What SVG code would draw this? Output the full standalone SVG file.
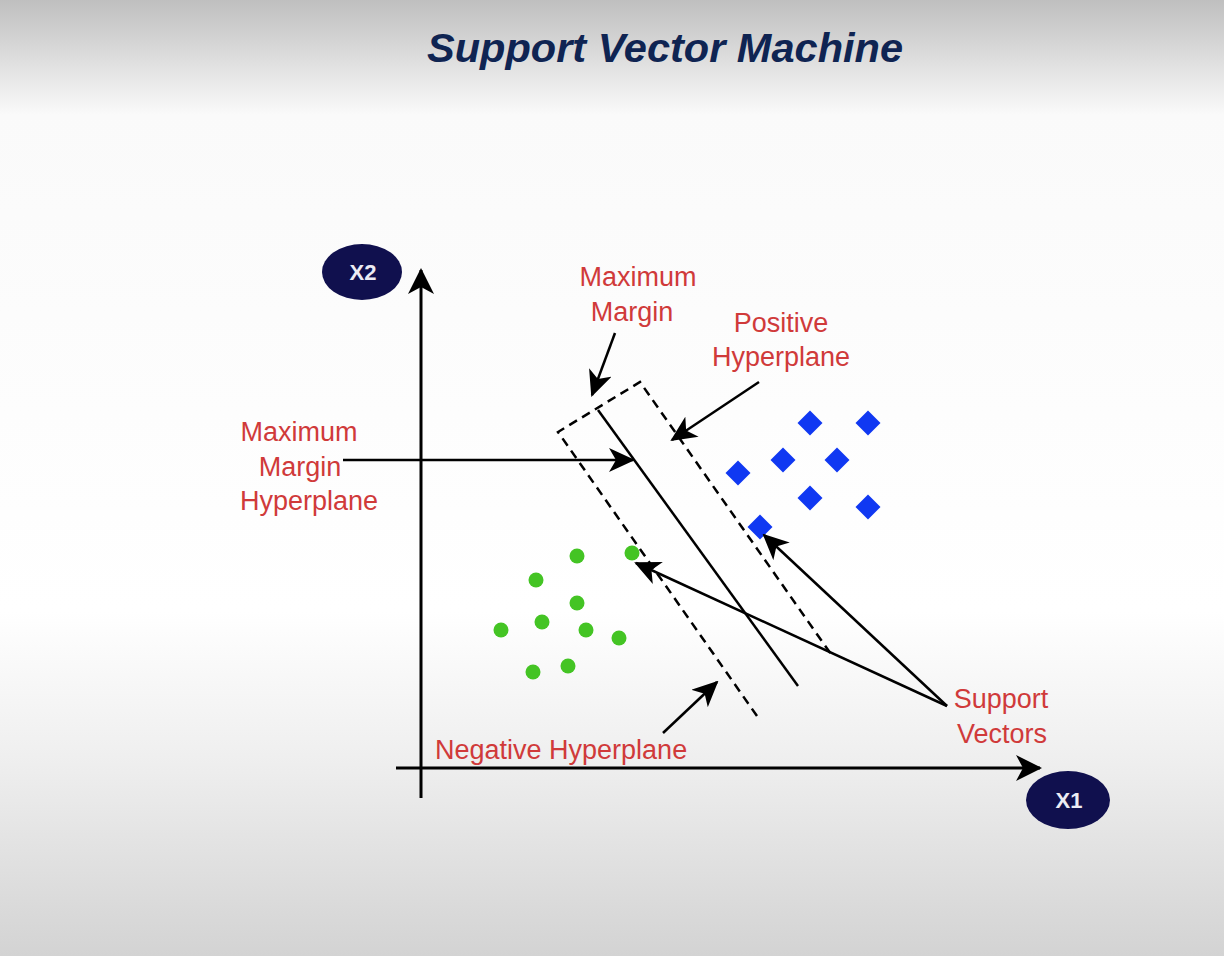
<svg xmlns="http://www.w3.org/2000/svg" width="1224" height="956" viewBox="0 0 1224 956">
  <defs>
    <linearGradient id="bg" x1="0" y1="0" x2="0" y2="1">
      <stop offset="0" stop-color="#bfbfbf"/>
      <stop offset="0.12" stop-color="#fafafa"/>
      <stop offset="0.64" stop-color="#ffffff"/>
      <stop offset="0.80" stop-color="#eeeeee"/>
      <stop offset="1" stop-color="#d3d3d3"/>
    </linearGradient>
    <marker id="axisHead" markerUnits="userSpaceOnUse" viewBox="0 0 26 26" markerWidth="26" markerHeight="26" refX="24" refY="13" orient="auto">
      <path d="M0,0 L26,13 L0,26 L7,13 z" fill="#000"/>
    </marker>
    <marker id="head" markerUnits="userSpaceOnUse" viewBox="0 0 26 24" markerWidth="26" markerHeight="24" refX="24" refY="12" orient="auto">
      <path d="M0,0 L26,12 L0,24 L7,12 z" fill="#000"/>
    </marker>
    <style>
      .title { font-family: "Liberation Sans", Arial, sans-serif; font-weight: bold; font-style: italic; font-size: 41px; fill: #0f2452; }
      .lbl { font-family: "Liberation Sans", Arial, sans-serif; font-size: 27px; fill: #d03a3a; text-anchor: middle; }
      .axisLbl { font-family: "Liberation Sans", Arial, sans-serif; font-weight: bold; font-size: 22px; fill: #ececf4; text-anchor: middle; }
      .axis { stroke: #000; stroke-width: 3; fill: none; }
      .arrow { stroke: #000; stroke-width: 2.5; fill: none; marker-end: url(#head); }
      .dash { stroke: #000; stroke-width: 2.5; fill: none; stroke-dasharray: 9 6; }
      .solid { stroke: #000; stroke-width: 2.5; fill: none; }
      .pos { fill: #1038f2; }
      .neg { fill: #44c424; }
      .badge { fill: #10104e; }
    </style>
  </defs>

  <rect x="0" y="0" width="1224" height="956" fill="url(#bg)"/>

  <text class="title" x="427" y="62" textLength="476" lengthAdjust="spacingAndGlyphs">Support Vector Machine</text>

  <g id="axes">
    <line class="axis" x1="421" y1="798" x2="421" y2="270" marker-end="url(#axisHead)"/>
    <line class="axis" x1="396" y1="768" x2="1040" y2="768" marker-end="url(#axisHead)"/>
  </g>

  <g id="x2-label">
    <ellipse class="badge" cx="362" cy="272" rx="40" ry="28"/>
    <text class="axisLbl" x="363" y="280">X2</text>
  </g>
  <g id="x1-label">
    <ellipse class="badge" cx="1068" cy="800" rx="42" ry="29"/>
    <text class="axisLbl" x="1069" y="808">X1</text>
  </g>

  <g id="margin-box">
    <polyline class="dash" points="757,716 558,432 640,382 833,657"/>
    <line class="solid" x1="598" y1="410" x2="798" y2="686"/>
  </g>

  <g id="negative-class">
    <circle class="neg" cx="577" cy="556" r="7.5"/>
    <circle class="neg" cx="632" cy="553" r="7.5"/>
    <circle class="neg" cx="536" cy="580" r="7.5"/>
    <circle class="neg" cx="577" cy="603" r="7.5"/>
    <circle class="neg" cx="501" cy="630" r="7.5"/>
    <circle class="neg" cx="542" cy="622" r="7.5"/>
    <circle class="neg" cx="586" cy="630" r="7.5"/>
    <circle class="neg" cx="619" cy="638" r="7.5"/>
    <circle class="neg" cx="533" cy="672" r="7.5"/>
    <circle class="neg" cx="568" cy="666" r="7.5"/>
  </g>

  <g id="positive-class">
    <path class="pos" d="M810,410.5 L822.5,423 L810,435.5 L797.5,423 z"/>
    <path class="pos" d="M868,410.5 L880.5,423 L868,435.5 L855.5,423 z"/>
    <path class="pos" d="M783,447.5 L795.5,460 L783,472.5 L770.5,460 z"/>
    <path class="pos" d="M837,447.5 L849.5,460 L837,472.5 L824.5,460 z"/>
    <path class="pos" d="M738,460.5 L750.5,473 L738,485.5 L725.5,473 z"/>
    <path class="pos" d="M810,485.5 L822.5,498 L810,510.5 L797.5,498 z"/>
    <path class="pos" d="M868,494.5 L880.5,507 L868,519.5 L855.5,507 z"/>
    <path class="pos" d="M760,514.5 L772.5,527 L760,539.5 L747.5,527 z"/>
  </g>

  <g id="connectors">
    <line class="arrow" x1="615" y1="333" x2="592" y2="395"/>
    <line class="arrow" x1="759" y1="382" x2="672" y2="440"/>
    <line class="arrow" x1="343" y1="460" x2="633" y2="460"/>
    <line class="arrow" x1="947" y1="706" x2="636" y2="563"/>
    <line class="arrow" x1="947" y1="706" x2="764" y2="535"/>
    <line class="arrow" x1="663" y1="733" x2="717" y2="682"/>
  </g>

  <g id="label-maximum-margin">
    <text class="lbl" x="638" y="286">Maximum</text>
    <text class="lbl" x="632" y="321">Margin</text>
  </g>
  <g id="label-positive-hyperplane">
    <text class="lbl" x="781" y="332">Positive</text>
    <text class="lbl" x="781" y="366">Hyperplane</text>
  </g>
  <g id="label-max-margin-hyperplane">
    <text class="lbl" x="299" y="441">Maximum</text>
    <text class="lbl" x="300" y="476">Margin</text>
    <text class="lbl" x="309" y="510">Hyperplane</text>
  </g>
  <g id="label-negative-hyperplane">
    <text class="lbl" x="435" y="759" style="text-anchor:start">Negative Hyperplane</text>
  </g>
  <g id="label-support-vectors">
    <text class="lbl" x="1001" y="708">Support</text>
    <text class="lbl" x="1002" y="743">Vectors</text>
  </g>
</svg>
